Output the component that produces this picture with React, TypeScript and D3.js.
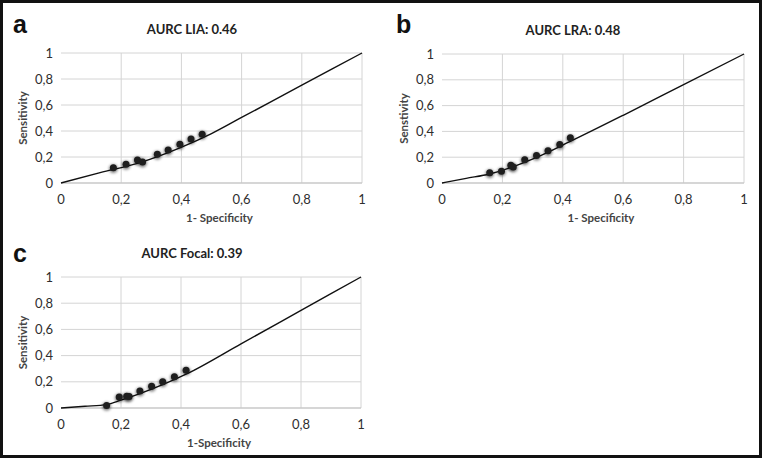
import { useEffect, useRef } from "react";
import * as d3 from "d3";

// axis ticks shared by all three panels
const xTicks = [0, 0.2, 0.4, 0.6, 0.8, 1];
const yTicks = [0, 0.2, 0.4, 0.6, 0.8, 1];

// panel a - LIA
const liaPointsX = [0.174, 0.216, 0.254, 0.271, 0.32, 0.356, 0.395, 0.432, 0.469];
const liaPointsY = [0.118, 0.144, 0.177, 0.162, 0.221, 0.254, 0.298, 0.338, 0.375];
const liaFitX = [0, 0.13, 0.26, 0.395, 0.5, 0.6, 0.8, 1];
const liaFitY = [0, 0.08, 0.155, 0.27, 0.38, 0.504, 0.752, 1];

// panel b - LRA
const lraPointsX = [0.158, 0.197, 0.228, 0.236, 0.274, 0.313, 0.351, 0.39, 0.425];
const lraPointsY = [0.08, 0.092, 0.137, 0.124, 0.18, 0.214, 0.25, 0.298, 0.35];
const lraFitX = [0, 0.08, 0.158, 0.323, 0.423, 0.6, 0.8, 1];
const lraFitY = [0, 0.036, 0.07, 0.209, 0.32, 0.525, 0.763, 1];

// panel c - Focal
const focalPointsX = [0.152, 0.194, 0.219, 0.227, 0.263, 0.302, 0.339, 0.378, 0.417];
const focalPointsY = [0.02, 0.084, 0.09, 0.087, 0.13, 0.166, 0.2, 0.238, 0.289];
const focalFitX = [0, 0.08, 0.152, 0.2, 0.263, 0.341, 0.417, 0.6, 0.8, 1];
const focalFitY = [0, 0.013, 0.026, 0.06, 0.11, 0.18, 0.258, 0.49, 0.745, 1];

const panelLetters = ["a", "b", "c"];
const panelTitles = ["AURC LIA: 0.46", "AURC LRA: 0.48", "AURC Focal: 0.39"];
const yTitles = ["Sensitivity", "Senstivity", "Sensitivity"];
const xTitles = ["1- Specificity", "1- Specificity", "1-Specificity"];

const zip = (xs: number[], ys: number[]) => xs.map((x, i) => ({ x, y: ys[i] }));

const series = [
  { points: zip(liaPointsX, liaPointsY), fit: zip(liaFitX, liaFitY) },
  { points: zip(lraPointsX, lraPointsY), fit: zip(lraFitX, lraFitY) },
  { points: zip(focalPointsX, focalPointsY), fit: zip(focalFitX, focalFitY) },
];

// plot boxes and letter positions (pixels)
const boxes = [
  { left: 61, right: 362, top: 53, bottom: 183, lx: 13, ly: 33 },
  { left: 442, right: 744, top: 54, bottom: 183, lx: 396, ly: 33 },
  { left: 61, right: 361, top: 277, bottom: 408, lx: 13, ly: 262 },
];

const FONT = "Lato, 'Open Sans', sans-serif";

export default function App() {
  const svgRef = useRef<SVGSVGElement>(null);

  useEffect(() => {
    if (!svgRef.current) return;
    const svg = d3.select(svgRef.current);
    svg.selectAll("*").remove();

    const defs = svg.append("defs");
    defs
      .append("filter")
      .attr("id", "blur")
      .attr("x", "-100%")
      .attr("y", "-100%")
      .attr("width", "300%")
      .attr("height", "300%")
      .append("feGaussianBlur")
      .attr("stdDeviation", 1.4);

    svg.append("rect").attr("width", 762).attr("height", 459).attr("fill", "#fff");

    boxes.forEach((b, i) => {
      const x = d3.scaleLinear().domain([0, 1]).range([b.left, b.right]);
      const y = d3.scaleLinear().domain([0, 1]).range([b.bottom, b.top]);
      const g = svg.append("g");

      // grid
      g.selectAll("line.h")
        .data(yTicks.slice(1))
        .enter()
        .append("line")
        .attr("x1", x(0))
        .attr("x2", x(1))
        .attr("y1", (d) => y(d))
        .attr("y2", (d) => y(d))
        .style("stroke", "#d4d4d4")
        .style("stroke-width", 1);

      g.selectAll("line.v")
        .data(xTicks.slice(1))
        .enter()
        .append("line")
        .attr("x1", (d) => x(d))
        .attr("x2", (d) => x(d))
        .attr("y1", y(0))
        .attr("y2", y(1))
        .style("stroke", "#d4d4d4")
        .style("stroke-width", 1);

      // x axis line
      g.append("line")
        .attr("x1", x(0))
        .attr("x2", x(1))
        .attr("y1", y(0))
        .attr("y2", y(0))
        .style("stroke", "#c8c8c8")
        .style("stroke-width", 1.5);

      // tick labels
      const fmt = (d: number) => String(d).replace(".", ",");
      g.selectAll("text.yt")
        .data(yTicks)
        .enter()
        .append("text")
        .attr("x", x(0) - 8)
        .attr("y", (d) => y(d))
        .attr("dy", "0.35em")
        .attr("text-anchor", "end")
        .style("font-family", FONT)
        .style("font-size", "13px")
        .style("fill", "#2e2e2e")
        .text(fmt);

      g.selectAll("text.xt")
        .data(xTicks)
        .enter()
        .append("text")
        .attr("x", (d) => x(d))
        .attr("y", y(0) + 21)
        .attr("text-anchor", "middle")
        .style("font-family", FONT)
        .style("font-size", "13px")
        .style("fill", "#2e2e2e")
        .text(fmt);

      // axis titles
      g.append("text")
        .attr("transform", `translate(${x(0) - 38},${(y(0) + y(1)) / 2}) rotate(-90)`)
        .attr("dy", "0.35em")
        .attr("text-anchor", "middle")
        .style("font-family", FONT)
        .style("font-size", "11.5px")
        .style("font-weight", 700)
        .style("fill", "#444")
        .text(yTitles[i]);

      g.append("text")
        .attr("x", (x(0) + x(1)) / 2 + 8)
        .attr("y", y(0) + 39)
        .attr("text-anchor", "middle")
        .style("font-family", FONT)
        .style("font-size", "11.5px")
        .style("font-weight", 700)
        .style("fill", "#444")
        .text(xTitles[i]);

      // chart title and panel letter
      g.append("text")
        .attr("x", x(0) + 131)
        .attr("y", y(1) - 19)
        .attr("text-anchor", "middle")
        .style("font-family", FONT)
        .style("font-size", "13px")
        .style("font-weight", 700)
        .style("fill", "#222")
        .text(panelTitles[i]);

      g.append("text")
        .attr("x", b.lx)
        .attr("y", b.ly)
        .style("font-family", "'Liberation Sans', Arial, sans-serif")
        .style("font-size", "25px")
        .style("font-weight", 900)
        .style("fill", "#111")
        .text(panelLetters[i]);

      // fitted curve
      const line = d3
        .line<{ x: number; y: number }>()
        .x((d) => x(d.x))
        .y((d) => y(d.y))
        .curve(d3.curveMonotoneX);

      g.append("path")
        .datum(series[i].fit)
        .attr("d", line)
        .attr("fill", "none")
        .attr("stroke", "#111")
        .attr("stroke-width", 1.4);

      // observed points with soft shadow
      g.selectAll("circle.sh")
        .data(series[i].points)
        .enter()
        .append("circle")
        .attr("cx", (d) => x(d.x))
        .attr("cy", (d) => y(d.y) + 1)
        .attr("r", 4.2)
        .attr("fill", "#000")
        .attr("opacity", 0.55)
        .attr("filter", "url(#blur)");

      g.selectAll("circle.pt")
        .data(series[i].points)
        .enter()
        .append("circle")
        .attr("cx", (d) => x(d.x))
        .attr("cy", (d) => y(d.y))
        .attr("r", 3.5)
        .attr("fill", "#1e1e1e");
    });

    // outer frame
    svg
      .append("rect")
      .attr("x", 1.5)
      .attr("y", 1.5)
      .attr("width", 759)
      .attr("height", 455)
      .attr("fill", "none")
      .attr("stroke", "#111")
      .attr("stroke-width", 3);
  }, []);

  return (
    <div style={{ position: "fixed", left: 0, top: 0 }}>
      <svg ref={svgRef} width={762} height={459} style={{ display: "block" }}></svg>
    </div>
  );
}
